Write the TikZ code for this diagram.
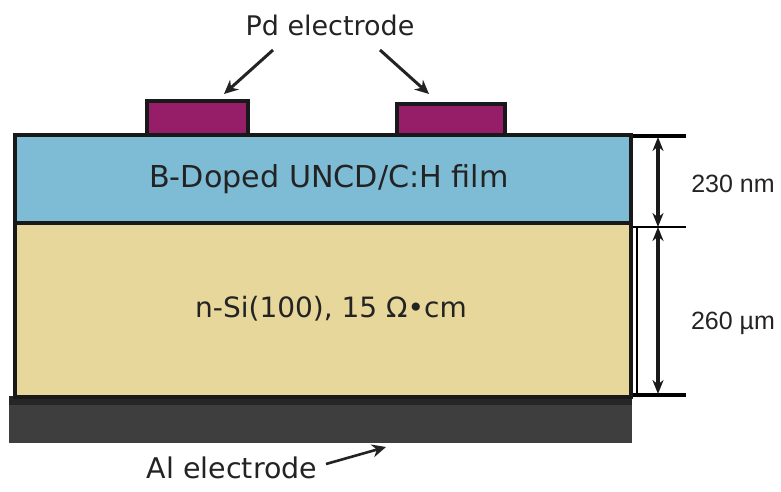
\documentclass[tikz,border=0pt]{standalone}
\usepackage{fontspec}
\setmainfont{DejaVu Sans}
\newfontfamily\dimfont{Liberation Sans}
\usetikzlibrary{arrows.meta}
\definecolor{filmblue}{RGB}{125,188,212}
\definecolor{siyellow}{RGB}{232,215,155}
\definecolor{pdpurple}{RGB}{150,30,105}
\definecolor{algrey}{RGB}{62,62,62}
\definecolor{txt}{RGB}{35,35,35}
\tikzset{
  layer/.style={draw=black!90, line width=3.2pt},
  pointer/.style={draw=txt, line width=3pt, -{Stealth[length=14pt,width=13pt]}},
  dimarrow/.style={draw=black!90, line width=3.2pt, {Stealth[length=14pt,width=11pt]}-{Stealth[length=14pt,width=11pt]}},
  label/.style={text=txt, inner sep=0pt},
  bigtext/.style={label, font=\fontsize{28.5}{32}\selectfont},
}
\begin{document}
\begin{tikzpicture}[x=1pt,y=-1pt]
\useasboundingbox (0,0) rectangle (781,491);
% Al electrode
\fill[algrey] (9,396) rectangle (632,443);
\fill[black!85] (9,396) rectangle (632,405);
% Si substrate
\draw[layer, fill=siyellow] (15,223) rectangle (631,397);
% film
\draw[layer, fill=filmblue] (15,135) rectangle (631,223);
% Pd electrodes
\draw[layer, fill=pdpurple] (147,101) rectangle (248,135);
\draw[layer, fill=pdpurple] (397,104) rectangle (505,135);
\node[coordinate] (pdL) at (224,94) {};
\node[coordinate] (pdR) at (429,94) {};
% texts
\node[label, font=\fontsize{30.2}{34}\selectfont] (film) at (329,179) {B-Doped UNCD/C:H film};
\node[label, font=\fontsize{28}{32}\selectfont] (si) at (331,309) {n-Si(100), 15 Ω•cm};
\node[label, font=\fontsize{27}{30}\selectfont] (pd) at (330,25) {Pd electrode};
\node[bigtext] (al) at (232,468) {Al electrode};
\coordinate (pdLs) at (273,50);
\coordinate (pdRs) at (380,50);
\draw[pointer] (pdLs) -- (pdL);
\draw[pointer] (pdRs) -- (pdR);
\coordinate (als) at (326,464);
\coordinate (ale) at (386,447);
\draw[pointer, line width=2.6pt] (als) -- (ale);
% dimension lines
\coordinate (t1) at (633,136); \coordinate (t2) at (686,136);
\coordinate (m1) at (633,227); \coordinate (m2) at (686,227);
\coordinate (b1) at (633,395); \coordinate (b2) at (686,395);
\draw[line width=3.2pt] (t1) -- (t2);
\draw[line width=1.5pt] (m1) -- (m2);
\draw[line width=3.2pt] (b1) -- (b2);
\draw[line width=1.2pt] (637,227) -- (637,395);
\coordinate (a1) at (658,137);
\coordinate (a2) at (658,227);
\coordinate (a3) at (658,394);
\draw[dimarrow] (a1) -- (a2);
\draw[dimarrow] (a2) -- (a3);
\node[label, font=\dimfont\fontsize{25}{28}\selectfont] (d1) at (733,184) {230 nm};
\node[label, font=\dimfont\fontsize{25}{28}\selectfont] (d2) at (733,323) {260 µm};
\end{tikzpicture}
\end{document}
